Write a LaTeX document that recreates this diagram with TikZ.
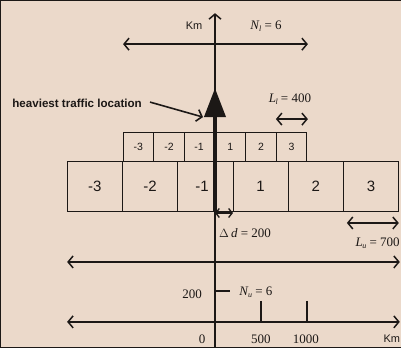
\documentclass[tikz,border=0pt]{standalone}
\usepackage{fontspec}
\setmainfont{Liberation Serif}
\setsansfont{Liberation Sans}
\usetikzlibrary{arrows.meta}
\definecolor{bg}{RGB}{235,217,202}
\definecolor{ink}{RGB}{28,24,22}
\newcommand{\symb}[2]{\textit{#1}\kern-0.04em\raisebox{-0.3ex}{\fontsize{8}{8}\selectfont\textit{#2}}}
\begin{document}
\begin{tikzpicture}[x=1pt,y=-1pt,
  every path/.style={draw=ink},
  axis/.style={line width=1.5pt},
  barb/.style={{Straight Barb[length=5pt,width=12pt]}-{Straight Barb[length=5pt,width=12pt]}},
  rbarb/.style={-{Straight Barb[length=5pt,width=12pt]}},
  sbox/.style={draw=ink,line width=0.9pt,minimum width=30.67pt,minimum height=29pt,inner sep=0pt,
    font=\sffamily\fontsize{10.5}{10.5}\selectfont,text=ink},
  lbox/.style={draw=ink,line width=0.9pt,minimum width=55.33pt,minimum height=50pt,inner sep=0pt,
    font=\sffamily\fontsize{15}{15}\selectfont,text=ink},
  serif/.style={font=\fontsize{13}{13}\selectfont,text=ink,inner sep=0pt},
  sans/.style={font=\sffamily\fontsize{11}{11}\selectfont,text=ink,inner sep=0pt}]
\fill[bg] (0,0) rectangle (401,347);
\useasboundingbox (0,0) rectangle (401,347);

% small boxes
\node[sbox] (sm3) at (138.33,146.5) {-3};
\node[sbox] (sm2) at (169,146.5) {-2};
\node[sbox] (sm1) at (199.67,146.5) {};
\node[sbox,draw=none] (sm1t) at (199,146.5) {-1};
\node[sbox] (sp1) at (230.33,146.5) {1};
\node[sbox] (sp2) at (261,146.5) {2};
\node[sbox] (sp3) at (291.67,146.5) {3};
% large boxes
\node[lbox] (lm3) at (94.67,186) {-3};
\node[lbox] (lm2) at (150,186) {-2};
\node[lbox] (lm1) at (205.33,186) {};
\node[lbox,draw=none] (lm1t) at (202,186) {-1};
\node[lbox] (lp1) at (260.67,186) {1};
\node[lbox] (lp2) at (316,186) {2};
\node[lbox] (lp3) at (371.33,186) {3};

% vertical axis
\coordinate (vtop) at (215,13);
\coordinate (vbot) at (215,347);
\draw[axis,rbarb] (vbot) -- (vtop);
% heavy arrow
\coordinate (hb) at (215,211);
\coordinate (ht) at (215,88);
\draw[line width=4pt,-{Triangle[length=29pt,width=21pt]}] (hb) -- (ht);

% upper line
\coordinate (ul) at (123,44);
\coordinate (ur) at (308,44);
\draw[axis,barb] (ul) -- (ur);
\node[sans] (km1) at (194,26) {Km};
\node[serif] (nl) at (266,26) {\symb{N}{l} = 6};

% heaviest traffic
\node[sans,font=\sffamily\bfseries\fontsize{11.6}{11.6}\selectfont,anchor=west] (htl) at (12,103) {heaviest traffic location};
\coordinate (hta) at (203,117);
\draw[line width=1.6pt,rbarb] (htl.east) ++(8pt,1pt) -- (hta);

% L_l
\node[serif] (ll) at (290,99) {\symb{L}{l} = 400};
\coordinate (lla) at (276,119);
\coordinate (llb) at (308,119);
\draw[axis,barb] (lla) -- (llb);

% delta d
\coordinate (dda) at (215,213);
\coordinate (ddb) at (233,213);
\draw[line width=1.3pt,{Straight Barb[length=3.5pt,width=9pt]}-{Straight Barb[length=3.5pt,width=9pt]}] (dda) -- (ddb);
\node[serif,anchor=west] (dd) at (219,233) {$\Delta$\,\textit{d} = 200};

% L_u
\coordinate (lua) at (347,223);
\coordinate (lub) at (399,223);
\draw[axis,barb] (lua) -- (lub);
\node[serif,anchor=east] (lu) at (400,243) {\symb{L}{u} = 700};

% middle line
\coordinate (ml) at (67,262);
\coordinate (mr) at (400,262);
\draw[axis,barb] (ml) -- (mr);

% 200 tick
\coordinate (t2a) at (215,291);
\coordinate (t2b) at (230,291);
\draw[axis] (t2a) -- (t2b);
\node[serif] (l200) at (192,294) {200};
\node[serif] (nu) at (256,292) {\symb{N}{u} = 6};

% bottom line
\coordinate (bl) at (67,322);
\coordinate (br) at (400,322);
\draw[axis,barb] (bl) -- (br);
\coordinate (k5a) at (261,301);
\coordinate (k5b) at (261,322);
\coordinate (k10a) at (307,301);
\coordinate (k10b) at (307,322);
\draw[axis] (k5a) -- (k5b);
\draw[axis] (k10a) -- (k10b);
\node[serif] (l0) at (202,339) {0};
\node[serif] (l500) at (261,339) {500};
\node[serif] (l1000) at (306,339) {1000};
\node[sans] (km2) at (392,339) {Km};
\end{tikzpicture}
\end{document}
